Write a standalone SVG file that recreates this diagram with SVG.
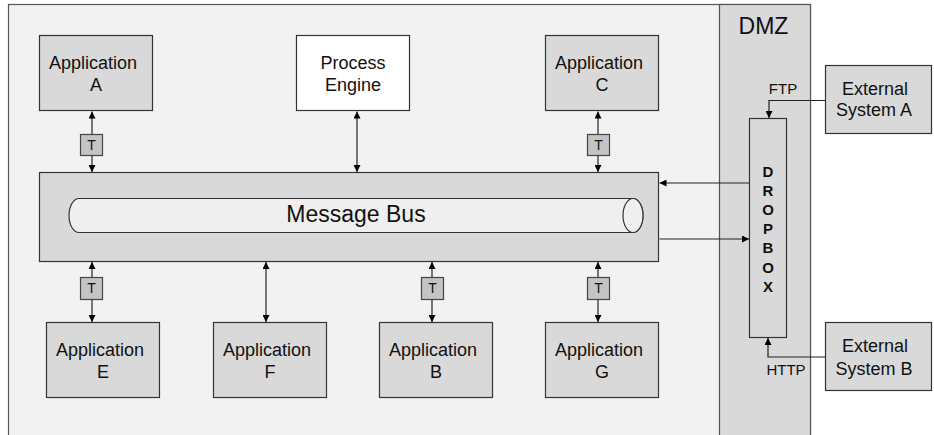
<svg xmlns="http://www.w3.org/2000/svg" width="934" height="435" viewBox="0 0 934 435">
<defs>
<marker id="ah" viewBox="0 0 8 8" refX="8" refY="4" markerWidth="7" markerHeight="7" markerUnits="userSpaceOnUse" orient="auto-start-reverse">
<path d="M0,0 L8,4 L0,8 Z" fill="#000"/>
</marker>
</defs>
<style>
text{font-family:"Liberation Sans",Arial,sans-serif;fill:#111;text-anchor:middle}
.box{fill:#d9d9d9;stroke:#333;stroke-width:1.2}
.white{fill:#fff;stroke:#333;stroke-width:1.2}
.t{fill:#c4c4c4;stroke:#444;stroke-width:1.2}
.lbl{font-size:18px}
.tl{font-size:14px}
.con{fill:none;stroke:#222;stroke-width:1.2}
.dir{marker-end:url(#ah)}
.bi{marker-start:url(#ah);marker-end:url(#ah)}
.db{font-size:15px;font-weight:bold}
</style>
<rect x="8.5" y="4.5" width="802" height="450" fill="#f2f2f2" stroke="#555" stroke-width="1.2"/>
<g id="dmz">
<rect x="719.5" y="4.5" width="91" height="450" fill="#d9d9d9" stroke="#555" stroke-width="1.2"/>
<text x="763.5" y="34" style="font-size:23px">DMZ</text>
</g>
<g id="connectors">
<path class="con bi" d="M92,111.5 V172"/>
<path class="con bi" d="M357,111.5 V172"/>
<path class="con bi" d="M598,111.5 V172"/>
<path class="con bi" d="M92,262 V322"/>
<path class="con bi" d="M266,262 V322"/>
<path class="con bi" d="M432,262 V322"/>
<path class="con bi" d="M598,262 V322"/>
<path class="con dir" d="M749,183 H659.5"/>
<path class="con dir" d="M659.5,239 H749"/>
<path class="con dir" d="M825,100.5 H769 V118"/>
<path class="con dir" d="M825,357 H768 V338"/>
<text x="783" y="94" style="font-size:15px">FTP</text>
<text x="786" y="375" style="font-size:15px">HTTP</text>
</g>
<g id="t-a"><rect class="t" x="80.5" y="134.5" width="22" height="21"/><text class="tl" x="91.5" y="150">T</text></g>
<g id="t-c"><rect class="t" x="587.5" y="134.5" width="22" height="21"/><text class="tl" x="598.5" y="150">T</text></g>
<g id="t-e"><rect class="t" x="80.5" y="277.5" width="22" height="22"/><text class="tl" x="91.5" y="293">T</text></g>
<g id="t-b"><rect class="t" x="421.5" y="277.5" width="22" height="22"/><text class="tl" x="432.5" y="293">T</text></g>
<g id="t-g"><rect class="t" x="587.5" y="277.5" width="22" height="22"/><text class="tl" x="598.5" y="293">T</text></g>
<g id="app-a"><rect class="box" x="39.5" y="35.5" width="113" height="75"/><text class="lbl" x="93" y="69">Application</text><text class="lbl" x="96" y="91">A</text></g>
<g id="process-engine"><rect class="white" x="296.5" y="35.5" width="113" height="75"/><text class="lbl" x="353" y="69">Process</text><text class="lbl" x="353" y="91">Engine</text></g>
<g id="app-c"><rect class="box" x="545.5" y="35.5" width="113" height="75"/><text class="lbl" x="599" y="69">Application</text><text class="lbl" x="602" y="91">C</text></g>
<g id="message-bus">
<rect class="box" x="39.5" y="172.5" width="619" height="89"/>
<path d="M79,198.5 H633 A10,17 0 0 1 633,232.5 H79 A10,17 0 0 1 79,198.5 Z" fill="#efefef" stroke="#333" stroke-width="1.2"/>
<ellipse cx="633" cy="215.5" rx="10" ry="17" fill="#efefef" stroke="#333" stroke-width="1.2"/>
<text x="356" y="222" style="font-size:23px">Message Bus</text>
</g>
<g id="app-e"><rect class="box" x="46.5" y="322.5" width="113" height="75"/><text class="lbl" x="100" y="356">Application</text><text class="lbl" x="103" y="378">E</text></g>
<g id="app-f"><rect class="box" x="213.5" y="322.5" width="113" height="75"/><text class="lbl" x="267" y="356">Application</text><text class="lbl" x="270" y="378">F</text></g>
<g id="app-b"><rect class="box" x="379.5" y="322.5" width="113" height="75"/><text class="lbl" x="433" y="356">Application</text><text class="lbl" x="436" y="378">B</text></g>
<g id="app-g"><rect class="box" x="545.5" y="322.5" width="113" height="75"/><text class="lbl" x="599" y="356">Application</text><text class="lbl" x="602" y="378">G</text></g>
<g id="dropbox">
<rect class="box" x="749.5" y="118.5" width="37" height="219"/>
<text class="db" x="768" y="177">D</text>
<text class="db" x="768" y="196">R</text>
<text class="db" x="768" y="215">O</text>
<text class="db" x="768" y="234">P</text>
<text class="db" x="768" y="253">B</text>
<text class="db" x="768" y="273">O</text>
<text class="db" x="768" y="292">X</text>
</g>
<g id="external-a"><rect class="box" x="825.5" y="65.5" width="106" height="68"/><text class="lbl" x="875" y="95">External</text><text class="lbl" x="874" y="116">System A</text></g>
<g id="external-b"><rect class="box" x="825.5" y="322.5" width="106" height="68"/><text class="lbl" x="875" y="352">External</text><text class="lbl" x="874" y="375">System B</text></g>
</svg>
